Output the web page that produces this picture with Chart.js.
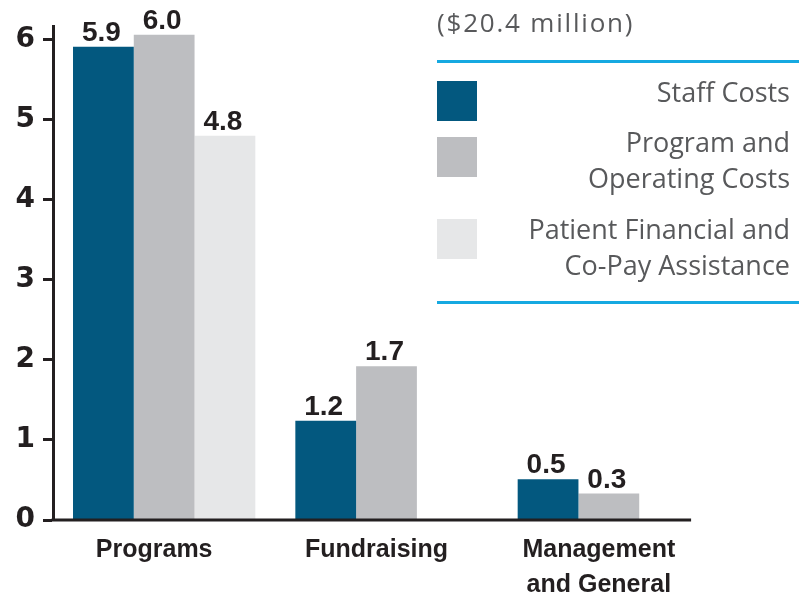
<!DOCTYPE html>
<html>
<head>
<meta charset="utf-8">
<script src="https://cdn.jsdelivr.net/npm/chart.js@4.4.1/dist/chart.umd.min.js"></script>
<style>
  body { margin: 0; background: #fff; }
  #wrap { position: relative; width: 799px; height: 596px; overflow: hidden; }
  #chart { position: absolute; left: 0; top: 0; }
  .title { position: absolute; left: 437px; top: 4px; font: 26px "Open Sans", sans-serif; letter-spacing: 1.8px; color: #58595b; white-space: nowrap; }
  .rule { position: absolute; left: 437px; width: 362px; height: 3px; background: #16a9e1; }
  .swatch { position: absolute; left: 437px; width: 40px; height: 40px; }
  .name { position: absolute; right: 9px; font: 27px/36px "Open Sans", sans-serif; color: #58595b; text-align: right; white-space: pre-line; }
</style>
</head>
<body>
<div id="wrap">
  <canvas id="chart" width="799" height="596"></canvas>
  <div id="legend"></div>
</div>
<script>
(function() {
  // Categorias e séries
  const categories = ['Programs', 'Fundraising', ['Management', 'and General']];
  const seriesNames = ['Staff Costs', 'Program and\nOperating Costs', 'Patient Financial and\nCo-Pay Assistance'];
  const seriesColors = ['#03587f', '#bdbec1', '#e6e7e8'];

  // alturas das barras como desenhadas
  const staffCosts = [5.91, 1.24, 0.51];
  const programCosts = [6.06, 1.92, 0.33];
  const patientAssistance = [4.8, null, null];

  // rótulos impressos sobre as barras
  const staffLabels = ['5.9', '1.2', '0.5'];
  const programLabels = ['6.0', '1.7', '0.3'];
  const patientLabels = ['4.8', '', ''];

  const yTicks = [0, 1, 2, 3, 4, 5, 6];
  const totalTitle = '($20.4 million)';

  const INK = '#231f20';

  function el(id) {
    return document.getElementById(id);
  }

  // legenda em HTML
  function buildLegend() {
    const box = el('legend');
    const rowTop = [81, 137, 219];
    const textTop = [74, 124, 211];
    let html = '<div class="title">' + totalTitle + '</div>';
    html += '<div class="rule" style="top:60px"></div>';
    seriesNames.forEach(function(name, i) {
      html += '<div class="swatch" style="top:' + rowTop[i] + 'px;background:' + seriesColors[i] + '"></div>';
      html += '<div class="name" style="top:' + textTop[i] + 'px">' + name + '</div>';
    });
    html += '<div class="rule" style="top:301px"></div>';
    box.innerHTML = html;
  }

  const printed = [staffLabels, programLabels, patientLabels];

  const valueLabels = {
    id: 'valueLabels',
    afterDatasetsDraw(chart) {
      const ctx = chart.ctx;
      ctx.save();
      ctx.font = 'bold 28px "Liberation Sans", Arial, sans-serif';
      ctx.fillStyle = INK;
      ctx.textAlign = 'center';
      ctx.textBaseline = 'alphabetic';
      chart.data.datasets.forEach(function(ds, di) {
        const meta = chart.getDatasetMeta(di);
        meta.data.forEach(function(bar, i) {
          if (ds.data[i] == null) return;
          ctx.fillText(printed[di][i], bar.x - 2, bar.y - 6);
        });
      });
      ctx.restore();
    }
  };

  // eixo x mais curto que a área do gráfico
  const xAxisLine = {
    id: 'xAxisLine',
    afterDraw(chart) {
      const ctx = chart.ctx;
      const x = chart.scales.x;
      const area = chart.chartArea;
      const step = x.getPixelForValue(1) - x.getPixelForValue(0);
      ctx.save();
      ctx.strokeStyle = INK;
      ctx.lineWidth = 3;
      ctx.beginPath();
      ctx.moveTo(area.left - 1.5, area.bottom);
      ctx.lineTo(x.getPixelForValue(categories.length - 1) + step * 0.37, area.bottom);
      ctx.stroke();
      ctx.restore();
    }
  };

  buildLegend();

  new Chart(el('chart'), {
    type: 'bar',
    data: {
      labels: categories,
      datasets: [
        { label: seriesNames[0], data: staffCosts, backgroundColor: seriesColors[0] },
        { label: seriesNames[1], data: programCosts, backgroundColor: seriesColors[1] },
        { label: seriesNames[2], data: patientAssistance, backgroundColor: seriesColors[2] }
      ]
    },
    options: {
      responsive: false,
      animation: false,
      datasets: { bar: { categoryPercentage: 0.82, barPercentage: 1, borderWidth: 0 } },
      layout: { padding: { top: 26, right: 79, left: 0, bottom: 0 } },
      plugins: {
        legend: { display: false },
        tooltip: { enabled: false }
      },
      scales: {
        x: {
          grid: { display: false, drawTicks: false },
          border: { display: false },
          ticks: {
            color: INK,
            font: { family: '"Liberation Sans", Arial, sans-serif', size: 25, weight: 'bold', lineHeight: 1.4 },
            padding: 13,
            labelOffset: -10,
            maxRotation: 0
          },
          afterFit(scale) { scale.height = 76; }
        },
        y: {
          min: 0,
          max: 6.17,
          grid: { drawOnChartArea: false, drawTicks: true, tickLength: 10, tickWidth: 3, tickColor: INK },
          border: { display: true, color: INK, width: 3 },
          ticks: { color: INK, font: { family: '"DejaVu Sans", sans-serif', size: 28, weight: 'bold' }, padding: 8 },
          afterBuildTicks(scale) { scale.ticks = yTicks.map(function(v) { return { value: v }; }); },
          afterFit(scale) { scale.width = 53; }
        }
      }
    },
    plugins: [valueLabels, xAxisLine]
  });
})();
</script>
</body>
</html>
